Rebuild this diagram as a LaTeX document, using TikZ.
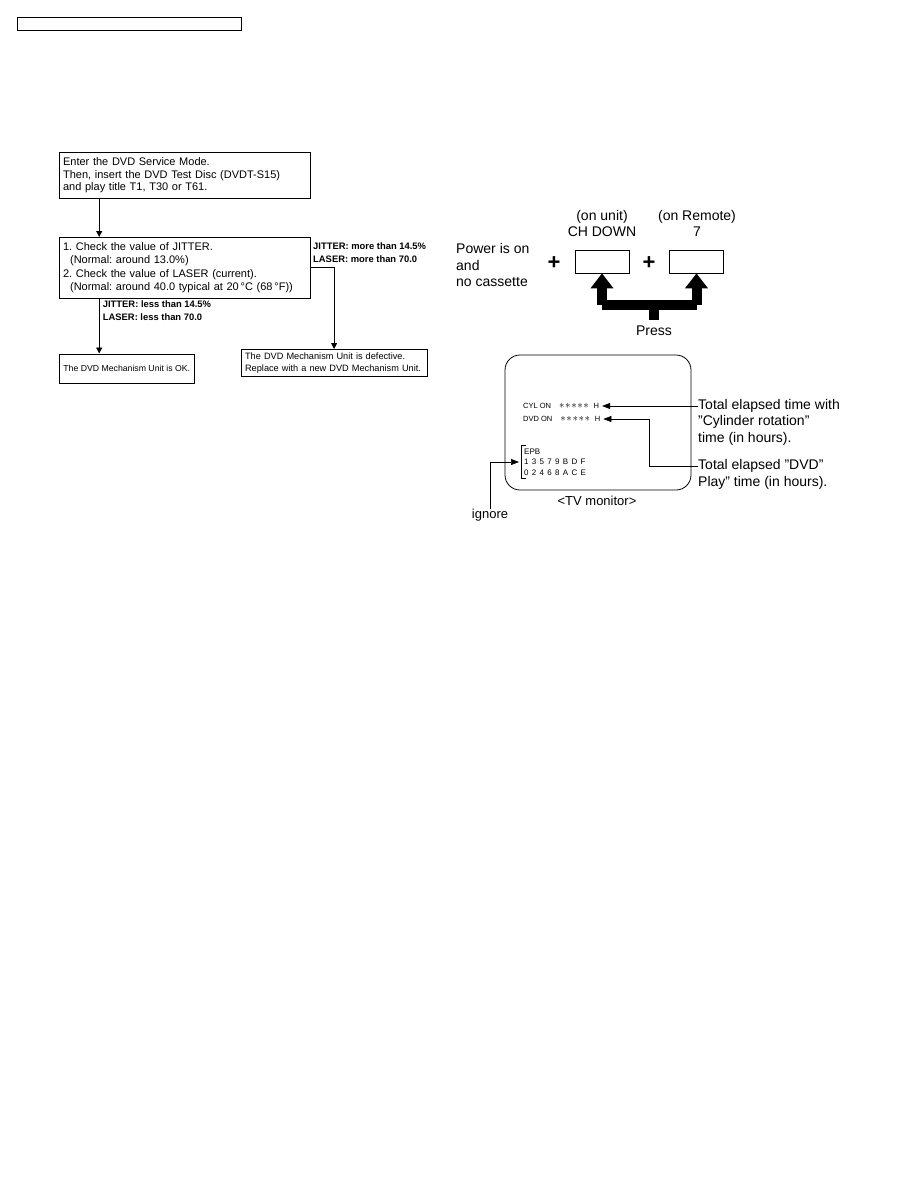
\documentclass[tikz,border=0pt]{standalone}
\usepackage{fontspec}
\setmainfont{Liberation Sans}
\usetikzlibrary{arrows.meta}
\frenchspacing

\newcommand\boxfont{\fontsize{11}{12.5}\selectfont}
\newcommand\chkfont{\fontsize{11}{13.4}\selectfont}
\newcommand\resfont{\fontsize{9.2}{12}\selectfont}
\newcommand\okfont{\fontsize{8.7}{12}\selectfont}
\newcommand\condfont{\fontsize{9.4}{13}\selectfont\bfseries}
\newcommand\bigfont{\fontsize{14}{16.5}\selectfont}
\newcommand\midfont{\fontsize{13}{15}\selectfont}
\newcommand\plusfont{\fontsize{22}{22}\selectfont\bfseries}
\newcommand\osdfont{\fontsize{7.5}{10.5}\selectfont}
\newcommand\hexfont{\fontsize{8}{10.5}\selectfont\spaceskip=3.3pt}
\newcommand\stars{\foreach \s in {1,...,5}{{\fontsize{11}{11}\selectfont$\ast$}\hspace{0.6pt}}}

\begin{document}
\begin{tikzpicture}[x=1pt,y=-1pt,
  every node/.style={inner sep=0pt},
  box/.style={draw, line width=0.8pt, anchor=north west, align=left, inner xsep=4pt},
  arr/.style={line width=0.8pt, -{Triangle[length=6pt,width=6pt]}},
  arrmon/.style={line width=0.7pt, -{Triangle[length=8pt,width=6pt]}},
  fat/.style={line width=10pt},
  key/.style={draw, line width=0.7pt, minimum width=54pt, minimum height=23pt}]
  \useasboundingbox (0,0) rectangle (918,1188);

  \node (hdr) [draw, line width=1pt, anchor=north west, minimum width=224pt, minimum height=13pt] at (17,17) {};

  \node (enter) [box, font=\boxfont, text width=243pt, minimum height=46pt] at (58.7,152)
    {Enter the DVD Service Mode.\\Then, insert the DVD Test Disc (DVDT-S15)\\and play title T1, T30 or T61.};
  \node (check) [box, font=\chkfont, text width=243pt, minimum height=60.7pt] at (58.7,237)
    {1. Check the value of JITTER.\\\hspace*{7pt}(Normal: around 13.0\%)\\2. Check the value of LASER (current).\\\hspace*{7pt}(Normal: around 40.0 typical at 20\,°C (68\,°F))};
  \node (ok) [box, font=\okfont, inner xsep=3pt, minimum width=135.3pt, minimum height=29pt] at (58.7,353.5)
    {The DVD Mechanism Unit is OK.};
  \node (bad) [box, font=\resfont, text width=178pt, minimum height=27pt] at (240.7,349)
    {The DVD Mechanism Unit is defective.\\Replace with a new DVD Mechanism Unit.};
  \node (less) [anchor=north west, align=left, font=\condfont] at (102.7,300)
    {JITTER: less than 14.5\%\\LASER: less than 70.0};
  \node (more) [anchor=north west, align=left, font=\condfont] at (313,242)
    {JITTER: more than 14.5\%\\LASER: more than 70.0};

  \draw[arr] (enter.south west) ++(40.5,0) coordinate (a1) -- (a1 |- check.north);
  \draw[arr] (check.south west) ++(40.5,0) coordinate (a2) -- (a2 |- ok.north);
  \draw[arr] (check.east) -| (bad.north);

  \node (power) [anchor=west, align=left, font=\bigfont] at (456,265) {Power is on\\and\\no cassette};
  \node (plusA) [font=\plusfont] at (554,263) {+};
  \node (keyA) [key] at (602,261.5) {};
  \node (unit) [align=center, font=\bigfont] at (602,223.5) {(on unit)\\CH DOWN};
  \node (plusB) [font=\plusfont] at (649,263) {+};
  \node (keyB) [key] at (696.5,261.5) {};
  \node (remote) [align=center, font=\bigfont] at (697,223.5) {(on Remote)\\7};
  \node (press) [font=\bigfont] at (654,331) {Press};

  \coordinate (bar) at (654,305);
  \draw[fat] (bar) -- ([yshift=6pt]press.north);
  \draw[fat, line cap=square] (keyA.south |- bar) -- (keyB.south |- bar);
  \draw[fat, -{Triangle[length=15pt,width=22pt]}] (keyA.south |- bar) -- (keyA.south);
  \draw[fat, -{Triangle[length=15pt,width=22pt]}] (keyB.south |- bar) -- (keyB.south);

  \node (monitor) [draw, line width=0.8pt, rounded corners=15pt, minimum width=186pt, minimum height=135pt] at (598,422.5) {};
  \node (cyl) [anchor=west, font=\osdfont, inner xsep=3pt] at (520,406) {CYL ON\hspace{8pt}\stars\hspace{4pt}H};
  \node (dvd) [anchor=west, font=\osdfont, inner xsep=3pt] at (520,419) {DVD ON\hspace{8pt}\stars\hspace{4pt}H};
  \node (epb) [anchor=west, align=left, font=\hexfont, inner ysep=3pt] at (524,462) {EPB\\1 3 5 7 9 B D F\\0 2 4 6 8 A C E};
  \draw[line width=0.6pt] ([xshift=2pt]epb.north west) -| ([xshift=-3pt]epb.south west) -- ([xshift=2pt]epb.south west);
  \node (tv) [font=\midfont] at (597,501) {\textless TV monitor\textgreater};
  \node (ignore) [font=\midfont] at (490,515) {ignore};
  \node (notecyl) [anchor=west, align=left, font=\bigfont] at (698,422) {Total elapsed time with\\"Cylinder rotation"\\time (in hours).};
  \node (notedvd) [anchor=west, align=left, font=\bigfont] at (698,474.5) {Total elapsed "DVD"\\Play" time (in hours).};

  \coordinate (dvdbend) at (649,466);
  \draw[arrmon] (notecyl.west |- cyl.east) -- (cyl.east);
  \draw[arrmon] (notedvd.west |- dvdbend) -- (dvdbend) |- (dvd.east);
  \draw[arrmon, shorten >=5pt] (ignore.north) |- (epb.west);
\end{tikzpicture}
\end{document}
